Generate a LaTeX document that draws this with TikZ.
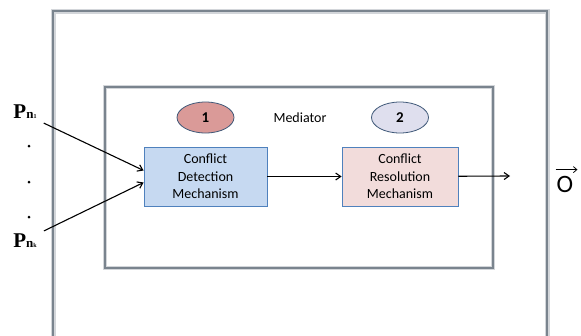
\documentclass[tikz,border=0pt]{standalone}
\usepackage{fontspec}
\setmainfont{Carlito}
\newfontfamily\pserif{Liberation Serif}
\usetikzlibrary{positioning, arrows.meta, shapes.geometric}

\definecolor{framegray}{HTML}{7A848E}
\definecolor{shadegray}{HTML}{D3D6DA}
\definecolor{edgeblue}{HTML}{4F81BD}
\definecolor{detfill}{HTML}{C6D9F1}
\definecolor{resfill}{HTML}{F2DCDB}
\definecolor{onefill}{HTML}{DA9A98}
\definecolor{twofill}{HTML}{DFDFEE}
\definecolor{tagedge}{HTML}{3F5878}

\newcommand{\pname}[1]{{\pserif\bfseries\fontsize{21}{21}\selectfont P\fontsize{13}{13}\selectfont n\fontsize{6}{6}\selectfont #1}}

\begin{document}
\begin{tikzpicture}[x=1pt, y=-1pt, node distance=2cm, on grid,
    font=\fontsize{14}{17.5}\selectfont]
    \tikzset{
        mech/.style={draw=edgeblue, line width=0.8pt, minimum height=59pt, align=center, inner sep=0pt},
        tag/.style={ellipse, draw=tagedge, line width=0.8pt, minimum width=57pt, minimum height=31pt, inner sep=0pt, font=\bfseries\fontsize{15}{15}\selectfont},
        shade/.style={draw=shadegray, line width=5pt},
        frame/.style={draw=framegray, line width=2.2pt},
        arr/.style={-{Straight Barb[length=5pt, width=7pt]}, line width=1.1pt},
        dot/.style={circle, fill, inner sep=0pt, minimum size=3pt}
    }
    \useasboundingbox (0,0) rectangle (581,335);

    % FRAMES
    \draw[shade] (53,345) |- (547,11) -- (547,345);
    \draw[frame] (53,345) |- (547,11) -- (547,345);
    \draw[shade, line width=4pt] (105,87) rectangle (493,268);
    \draw[frame, line width=1.4pt] (105,87) rectangle (493,268);

    % MECHANISMS
    \node[mech, fill=detfill, minimum width=123pt] (det) at (205.5,176.5) {Conflict\\Detection\\Mechanism};
    \node[mech, fill=resfill, minimum width=116pt] (res) [right=194.5pt of det] {Conflict\\Resolution\\Mechanism};

    % TAGS
    \node[tag, fill=onefill] (one) [above=59pt of det] {1};
    \node[tag, fill=twofill] (two) [above=59pt of res] {2};
    \node (med) at (300,117.5) {Mediator};

    % INPUTS
    \node[inner sep=0pt] (pn1) at (25,112) {\pname{1}};
    \node[inner sep=0pt] (pnk) at (25,241) {\pname{k}};
    \foreach \y [count=\i] in {146,182,217}
        \node[dot] (dot\i) at (29,\y) {};

    % OUTPUT
    \coordinate (oend) at (510,176);
    \node[inner sep=0pt] (out) at (565,184) {\fontsize{25}{25}\selectfont O};
    \draw[-{Straight Barb[length=3.5pt, width=6pt]}, line width=0.8pt]
        ([xshift=-1pt, yshift=6pt]out.north west) -- ([xshift=4pt, yshift=6pt]out.north east);

    % CONNECTIONS
    \draw[arr] ([xshift=7pt, yshift=-4pt]pn1.south east) -- ([yshift=6pt]det.west);
    \draw[arr] ([xshift=7pt, yshift=3pt]pnk.north east) -- ([yshift=-6pt]det.west);
    \draw[arr] (det) -- (res);
    \draw[arr] (res) -- (oend);
\end{tikzpicture}
\end{document}
